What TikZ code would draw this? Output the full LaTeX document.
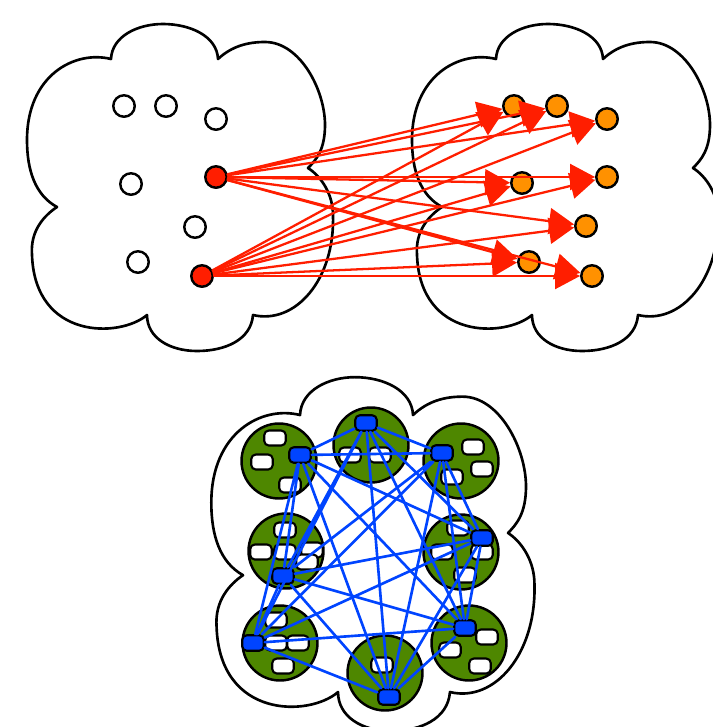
\documentclass[tikz,border=0pt]{standalone}
\usepackage{tikz}
\usetikzlibrary{arrows.meta}

\definecolor{linkred}{RGB}{255,30,0}
\definecolor{peerorange}{RGB}{255,145,0}
\definecolor{podgreen}{RGB}{78,135,0}
\definecolor{hubblue}{RGB}{0,68,255}

\tikzset{
  peerdot/.style={circle, draw=black, fill=white, line width=1.4pt, minimum size=4.3mm, inner sep=0pt},
  sourcedot/.style={peerdot, fill=linkred},
  targetdot/.style={peerdot, fill=peerorange},
  podcircle/.style={circle, draw=black, fill=podgreen, line width=1.4pt, minimum size=15mm, inner sep=0pt},
  slotbox/.style={rectangle, rounded corners=0.9mm, draw=black, fill=white, line width=1.2pt,
    minimum width=4.3mm, minimum height=3mm, inner sep=0pt},
  hubbox/.style={slotbox, fill=hubblue, minimum height=3.1mm},
  linkarrow/.style={draw=linkred, line width=1.3pt, -{Triangle[length=5mm, width=5.2mm]}},
  meshline/.style={draw=hubblue, line width=1.5pt},
  cloudline/.style={draw=black, fill=white, line width=1.5pt}
}

% one puffy cloud in pixel units (six bumps, indent to indent)
\newcommand{\puffcloud}{%
  \path[cloudline]
    (111,59) .. controls (112,36) and (138,24) .. (163,24)
             .. controls (190,24) and (217,36) .. (218,59)
             .. controls (232,46) and (248,42) .. (265,42)
             .. controls (300,42) and (325,90) .. (325,125)
             .. controls (325,150) and (316,160) .. (308,168)
             .. controls (322,177) and (333,195) .. (333,215)
             .. controls (335,280) and (295,325) .. (253,315)
             .. controls (251,340) and (225,351) .. (197,351)
             .. controls (170,351) and (147,338) .. (147,315)
             .. controls (120,338) and (35,340) .. (32,255)
             .. controls (30,230) and (45,215) .. (57,207)
             .. controls (35,195) and (27,170) .. (27,140)
             .. controls (27,75) and (75,50) .. (111,59)
    -- cycle;}

\begin{document}
\begin{tikzpicture}[x=0.02cm, y=-0.02cm, line cap=round, line join=round]
\useasboundingbox (0,0) rectangle (713,727);

% ------------------ TOP LEFT: sending cloud ------------------
\puffcloud
\node[peerdot] (w1) at (124,106) {};
\node[peerdot] (w2) at (166,106) {};
\node[peerdot] (w3) at (216,119) {};
\node[peerdot] (w4) at (131,184) {};
\node[peerdot] (w5) at (195,227) {};
\node[peerdot] (w6) at (138,262) {};
\node[sourcedot] (r1) at (216,177) {};
\node[sourcedot] (r2) at (202,276) {};

% ------------------ TOP RIGHT: receiving cloud ------------------
\begin{scope}[shift={(385,0)}]
  \puffcloud
\end{scope}
\node[targetdot] (o1) at (514,106) {};
\node[targetdot] (o2) at (557,106) {};
\node[targetdot] (o3) at (607,119) {};
\node[targetdot] (o4) at (522,183) {};
\node[targetdot] (o5) at (607,177) {};
\node[targetdot] (o6) at (586,226) {};
\node[targetdot] (o7) at (529,262) {};
\node[targetdot] (o8) at (592,276) {};

% every red peer sends to every orange peer
\draw[linkarrow] (r1) -- (o1);
\draw[linkarrow] (r1) -- (o2);
\draw[linkarrow] (r1) -- (o3);
\draw[linkarrow] (r1) -- (o4);
\draw[linkarrow] (r1) -- (o5);
\draw[linkarrow] (r1) -- (o6);
\draw[linkarrow] (r1) -- (o7);
\draw[linkarrow] (r1) -- (o8);
\draw[linkarrow] (r2) -- (o1);
\draw[linkarrow] (r2) -- (o2);
\draw[linkarrow] (r2) -- (o3);
\draw[linkarrow] (r2) -- (o4);
\draw[linkarrow] (r2) -- (o5);
\draw[linkarrow] (r2) -- (o6);
\draw[linkarrow] (r2) -- (o7);
\draw[linkarrow] (r2) -- (o8);

% ------------------ BOTTOM: meshed pods ------------------
\begin{scope}[shift={(182.8,351.2)}, xscale=1.056, yscale=1.082]
  \puffcloud
\end{scope}

% green pods
\node[podcircle] (g1) at (279,461) {};
\node[podcircle] (g2) at (371,445) {};
\node[podcircle] (g3) at (461,461) {};
\node[podcircle] (g4) at (286,551) {};
\node[podcircle] (g5) at (461,552) {};
\node[podcircle] (g6) at (280,643) {};
\node[podcircle] (g7) at (385,673) {};
\node[podcircle] (g8) at (469,643) {};

% white slots inside the pods
\node[slotbox] (s1a) at (275,438) {};
\node[slotbox] (s1b) at (262,462) {};
\node[slotbox] (s1c) at (290,485) {};
\node[slotbox] (s2a) at (350,455) {};
\node[slotbox] (s2b) at (380,455) {};
\node[slotbox] (s3a) at (473,447) {};
\node[slotbox] (s3b) at (482,469) {};
\node[slotbox] (s3c) at (452,477) {};
\node[slotbox] (s4a) at (285,530) {};
\node[slotbox] (s4b) at (261,552) {};
\node[slotbox] (s4c) at (285,552) {};
\node[slotbox] (s4d) at (312,550) {};
\node[slotbox] (s4e) at (307,562) {};
\node[slotbox] (s5a) at (458,528) {};
\node[slotbox] (s5b) at (442,552) {};
\node[slotbox] (s5c) at (482,552) {};
\node[slotbox] (s5d) at (465,575) {};
\node[slotbox] (s6a) at (276,620) {};
\node[slotbox] (s6b) at (276,643) {};
\node[slotbox] (s6c) at (298,643) {};
\node[slotbox] (s6d) at (283,666) {};
\node[slotbox] (s7a) at (382,665) {};
\node[slotbox] (s8a) at (487,637) {};
\node[slotbox] (s8b) at (450,650) {};
\node[slotbox] (s8c) at (480,666) {};

% blue hubs, one per pod
\node[hubbox] (b1) at (300,455) {};
\node[hubbox] (b2) at (366,423) {};
\node[hubbox] (b3) at (442,453) {};
\node[hubbox] (b4) at (283,576) {};
\node[hubbox] (b5) at (482,538) {};
\node[hubbox] (b6) at (253,643) {};
\node[hubbox] (b7) at (389,697) {};
\node[hubbox] (b8) at (465,628) {};

% full mesh between the hubs
\draw[meshline] (b1) -- (b2) (b1) -- (b3) (b1) -- (b4) (b1) -- (b5) (b1) -- (b6) (b1) -- (b7) (b1) -- (b8);
\draw[meshline] (b2) -- (b3) (b2) -- (b4) (b2) -- (b5) (b2) -- (b6) (b2) -- (b7) (b2) -- (b8);
\draw[meshline] (b3) -- (b4) (b3) -- (b5) (b3) -- (b6) (b3) -- (b7) (b3) -- (b8);
\draw[meshline] (b4) -- (b5) (b4) -- (b6) (b4) -- (b7) (b4) -- (b8);
\draw[meshline] (b5) -- (b6) (b5) -- (b7) (b5) -- (b8);
\draw[meshline] (b6) -- (b7) (b6) -- (b8);
\draw[meshline] (b7) -- (b8);

\end{tikzpicture}
\end{document}
